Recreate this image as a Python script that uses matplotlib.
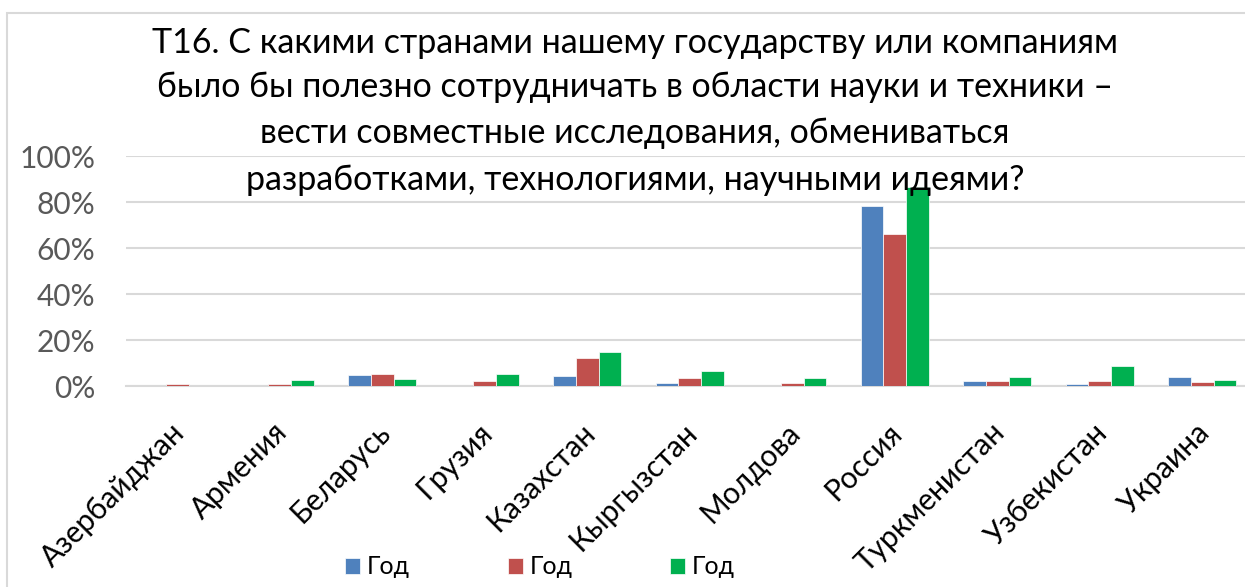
import numpy as np
import matplotlib.pyplot as plt
from matplotlib.patches import Rectangle
from matplotlib.transforms import ScaledTranslation

plt.rcParams['font.family'] = ['Lato', 'DejaVu Sans']

# Данные
countries = ['Азербайджан', 'Армения', 'Беларусь', 'Грузия', 'Казахстан',
             'Кыргызстан', 'Молдова', 'Россия', 'Туркменистан', 'Узбекистан', 'Украина']
series_names = ['Год', 'Год', 'Год']
blue_vals = [0.0, 0.0, 4.6, 0.0, 4.2, 1.3, 0.0, 78.4, 2.3, 0.7, 3.9]
red_vals = [0.9, 0.9, 5.2, 2.0, 12.0, 3.6, 1.3, 66.1, 2.3, 2.3, 1.8]
green_vals = [0.0, 2.5, 3.0, 5.2, 14.8, 6.4, 3.6, 86.7, 4.1, 8.5, 2.4]
y_ticks = [0, 20, 40, 60, 80, 100]

title_lines = ['Т16. С какими странами нашему государству или компаниям',
               'было бы полезно сотрудничать в области науки и техники –',
               'вести совместные исследования, обмениваться',
               'разработками, технологиями, научными идеями?']

colors = ['#4F81BD', '#C0504D', '#00B050']

W, H = 1245, 587
fig = plt.figure(figsize=(W / 100, H / 100), dpi=100)
ax = fig.add_axes([126 / W, 201 / H, 1127.5 / W, 230 / H])

# рамка диаграммы
fig.patches.append(Rectangle((7 / W, -0.1), 1.2, (H - 13) / H + 0.1,
                             transform=fig.transFigure, fill=False,
                             edgecolor='#D9D9D9', linewidth=1.5))

x = np.arange(len(countries))
w = 0.222
for k, vals in enumerate([blue_vals, red_vals, green_vals]):
    ax.bar(x + (k - 1) * w, vals, width=w, color=colors[k], label=series_names[k],
           edgecolor='white', linewidth=0.5, zorder=3)

ax.set_xlim(-0.5, len(countries) - 0.5)
ax.set_ylim(0, 100)
ax.set_yticks(y_ticks)
ax.set_yticklabels([f'{t}%' for t in y_ticks], fontsize=21.5, color='#595959')
ax.set_xticks(x)
ax.set_xticklabels(countries, rotation=45, ha='right', va='top',
                   rotation_mode='anchor', fontsize=21.5)
ax.tick_params(axis='x', length=0, pad=23)
ax.tick_params(axis='y', length=0, pad=22)
# сдвиг подписей чуть влево
shift = ScaledTranslation(-7 / 100, 0, fig.dpi_scale_trans)
for lbl in ax.get_xticklabels():
    lbl.set_transform(lbl.get_transform() + shift)
ax.grid(axis='y', color='#D9D9D9', linewidth=1.5, zorder=0)
for s in ['top', 'right', 'left']:
    ax.spines[s].set_visible(False)
ax.spines['bottom'].set_color('#D9D9D9')
ax.spines['bottom'].set_linewidth(1.5)

# заголовок, построчно
for line, base in zip(title_lines, [53, 97, 143, 190]):
    fig.text(635 / W, 1 - base / H, line, ha='center', va='baseline',
             fontsize=24.5, color='black')

fig.legend(loc='center', bbox_to_anchor=(540 / W, 1 - 567 / H), ncol=3,
           frameon=False, fontsize=18, handlelength=0.6, handleheight=0.6,
           columnspacing=3.9, handletextpad=0.28)

fig.savefig('out.png', dpi=100)
